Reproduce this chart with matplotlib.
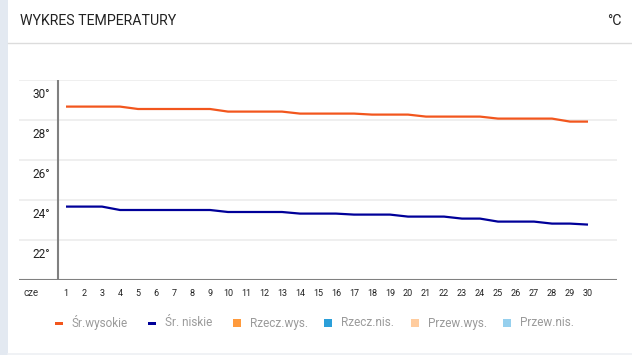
import matplotlib
matplotlib.use("Agg")
import matplotlib.pyplot as plt
from matplotlib.patches import Rectangle
from matplotlib import font_manager

names = {f.name for f in font_manager.fontManager.ttflist}
FONT = "Liberation Sans Narrow" if "Liberation Sans Narrow" in names else "Roboto"
plt.rcParams["font.family"] = [FONT, "DejaVu Sans"]

# ---- data ----
days = list(range(1, 31))
day_labels = [str(d) for d in days]
month_label = "cze"
avg_high = [28.67, 28.67, 28.67, 28.67, 28.55, 28.55, 28.55, 28.55, 28.55, 28.42,
            28.42, 28.42, 28.42, 28.32, 28.32, 28.32, 28.32, 28.27, 28.27, 28.27,
            28.17, 28.17, 28.17, 28.17, 28.07, 28.07, 28.07, 28.07, 27.92, 27.92]
avg_low = [23.67, 23.67, 23.67, 23.50, 23.50, 23.50, 23.50, 23.50, 23.50, 23.40,
           23.40, 23.40, 23.40, 23.32, 23.32, 23.32, 23.27, 23.27, 23.27, 23.17,
           23.17, 23.17, 23.07, 23.07, 22.92, 22.92, 22.92, 22.82, 22.82, 22.77]
y_ticks = [30, 28, 26, 24, 22]
y_tick_labels = ["30°", "28°", "26°", "24°", "22°"]
legend_labels = ["Śr.wysokie", "Śr. niskie", "Rzecz.wys.", "Rzecz.nis.", "Przew.wys.", "Przew.nis."]
legend_colors = ["#f2561d", "#000099", "#ff9a3c", "#2b9fd9", "#ffcc9e", "#96d0ee"]
legend_kinds = ["line", "line", "box", "box", "box", "box"]
title = "WYKRES TEMPERATURY"
unit = "°C"

W, H = 632, 355
fig = plt.figure(figsize=(W / 100, H / 100), dpi=100)
fig.patch.set_facecolor("white")

# overlay for decorations in pixel coordinates
deco = fig.add_axes([0, 0, 1, 1])
deco.set_xlim(0, W)
deco.set_ylim(H, 0)
deco.axis("off")
deco.add_patch(Rectangle((0, 0), 8, H, color="#e3e9f1", lw=0))
deco.plot([8, W], [42.5, 42.5], color="#dcdcdc", lw=1.0)
deco.plot([8, W], [353.5, 353.5], color="#eef0f4", lw=1.2)
deco.text(20, 21, title, fontsize=10.2, color="#222222", va="center", ha="left")
deco.text(622, 21, unit, fontsize=10.2, color="#222222", va="center", ha="right")

# legend
leg_x = [59, 152, 237, 328, 415, 507]
leg_y = 323
for lx, lab, col, kind in zip(leg_x, legend_labels, legend_colors, legend_kinds):
    if kind == "line":
        deco.add_patch(Rectangle((lx - 4, leg_y - 1.5), 8, 3, color=col, lw=0))
    else:
        deco.add_patch(Rectangle((lx - 4, leg_y - 4), 8, 8, color=col, lw=0))
    deco.text(lx + 13, leg_y, lab, fontsize=8.5, color="#9a9a9a", va="center", ha="left")

# main chart axes
ax = fig.add_axes([19 / W, 1 - 280 / H, (617 - 19) / W, 200 / H])
ax.set_xlim(1 + (19 - 66) / 18, 1 + (617 - 66) / 18)
ax.set_ylim(20, 30)
ax.axis("off")
for yt in y_ticks:
    ax.axhline(yt, color="#eeeeee", lw=1.3, zorder=0)
ax.axhline(20, color="#808080", lw=1.5, zorder=1)
ax.plot([0.556, 0.556], [20, 30], color="#808080", lw=1.5, zorder=1)

for yt, lab in zip(y_ticks, y_tick_labels):
    ax.text(0.1, yt - 0.75, lab, fontsize=8.5, color="#222222", ha="right", va="center")
for d, lab in zip(days, day_labels):
    ax.text(d, 19.35, lab, fontsize=6.5, color="#222222", ha="center", va="center", clip_on=False)
ax.text(-0.94, 19.35, month_label, fontsize=7, color="#333333", ha="center", va="center", clip_on=False)

ax.plot(days, avg_high, color=legend_colors[0], lw=1.6, zorder=3, solid_capstyle="butt")
ax.plot(days, avg_low, color=legend_colors[1], lw=1.6, zorder=3, solid_capstyle="butt")

fig.savefig("out.png", dpi=100)
